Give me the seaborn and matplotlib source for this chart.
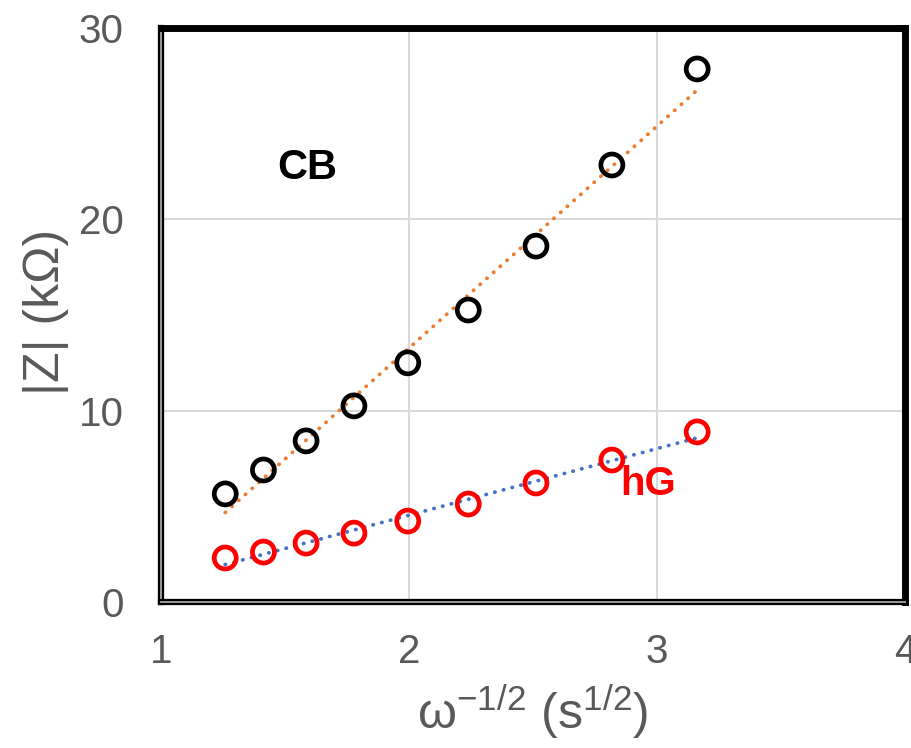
import numpy as np
import pandas as pd
import matplotlib
matplotlib.use("Agg")
import matplotlib.pyplot as plt
import matplotlib.patheffects as pe
import seaborn as sns

# ---- data ----
x_vals = [1.259, 1.413, 1.585, 1.778, 1.995, 2.239, 2.512, 2.818, 3.162]
cb_z = [5.65, 6.9, 8.42, 10.25, 12.5, 15.26, 18.6, 22.84, 27.86]
hg_z = [2.3, 2.61, 3.08, 3.6, 4.23, 5.12, 6.22, 7.42, 8.89]
x_ticks = [1, 2, 3, 4]
y_ticks = [0, 10, 20, 30]
series_labels = ["CB", "hG"]

df_cb = pd.DataFrame({"x": x_vals, "z": cb_z})
df_hg = pd.DataFrame({"x": x_vals, "z": hg_z})

sns.set_theme(style="white")
plt.rcParams["font.family"] = ["Liberation Sans", "DejaVu Sans"]
plt.rcParams["mathtext.fontset"] = "custom"
plt.rcParams["mathtext.rm"] = "Liberation Sans"

gray = "#595959"
fig = plt.figure(figsize=(9.12, 7.48), dpi=100)
ax = fig.add_axes([161 / 912, 1 - 602 / 748, (905 - 161) / 912, (602 - 28) / 748])

# trendlines
dot = (0, (0.1, 2.3))
sns.regplot(data=df_cb, x="x", y="z", ax=ax, scatter=False, ci=None, truncate=True,
            line_kws=dict(color="#ED7D31", linestyle=dot, linewidth=2.7,
                          dash_capstyle="round", zorder=2))
sns.regplot(data=df_hg, x="x", y="z", ax=ax, scatter=False, ci=None, truncate=True,
            line_kws=dict(color="#4472C4", linestyle=dot, linewidth=2.7,
                          dash_capstyle="round", zorder=2))

# markers
sns.scatterplot(data=df_cb, x="x", y="z", ax=ax, marker="o", s=250,
                facecolors="none", edgecolor="black", linewidth=3.4, zorder=3)
sns.scatterplot(data=df_hg, x="x", y="z", ax=ax, marker="o", s=250,
                facecolors="none", edgecolor="#FF0000", linewidth=3.4, zorder=3)

ax.text(1.589, 22.7, series_labels[0], color="black", fontsize=30, fontweight="bold",
        ha="center", va="center")
ax.text(2.964, 6.17, series_labels[1], color="#FF0000", fontsize=29, fontweight="bold",
        ha="center", va="center")

ax.set_xlim(1, 4)
ax.set_ylim(0, 30)
ax.set_xticks(x_ticks)
ax.set_yticks(y_ticks)
ax.set_xticklabels([str(t) for t in x_ticks])
ax.set_yticklabels([str(t) for t in y_ticks])
ax.tick_params(axis="both", length=0, labelsize=29, labelcolor=gray)
ax.tick_params(axis="y", pad=27)
ax.tick_params(axis="x", pad=22)

ax.grid(True, color="#D9D9D9", linewidth=1.5)
ax.set_axisbelow(True)

for side in ["top", "right"]:
    ax.spines[side].set_color("black")
    ax.spines[side].set_linewidth(5)
for side in ["left", "bottom"]:
    ax.spines[side].set_color("#9a9a9a")
    ax.spines[side].set_linewidth(1.4)
    ax.spines[side].set_path_effects([pe.Stroke(linewidth=4.5, foreground="black"), pe.Normal()])
for s in ax.spines.values():
    s.set_zorder(5)

ax.set_xlabel("ω$^{\\mathregular{-1/2}}$ (s$^{\\mathregular{1/2}}$)", fontsize=36, color=gray)
ax.set_ylabel("|Z| (kΩ)", fontsize=36, color=gray)
ax.xaxis.set_label_coords(0.5, -0.14)
ax.yaxis.set_label_coords(-0.124, 0.505)

fig.savefig("out.png", dpi=100)
